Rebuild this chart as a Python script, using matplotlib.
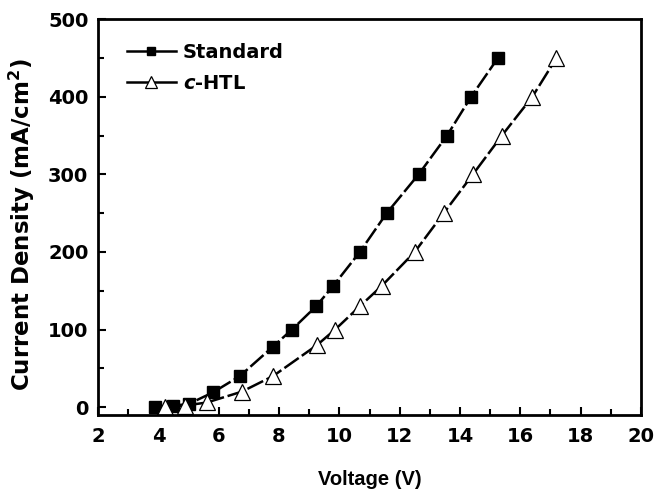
import matplotlib
matplotlib.use("Agg")
import matplotlib.pyplot as plt
from matplotlib.ticker import MultipleLocator

std_v = [3.89, 4.5, 5.0, 5.81, 6.7, 7.8, 8.43, 9.23, 9.79, 10.68, 11.57, 12.63, 13.57, 14.37, 15.26]
std_j = [0, 2, 4, 19, 40, 78, 100, 130, 156, 200, 250, 300, 350, 400, 450]
htl_v = [4.22, 4.88, 5.61, 6.77, 7.8, 9.26, 9.86, 10.68, 11.4, 12.5, 13.46, 14.43, 15.39, 16.4, 17.2]
htl_j = [0, 2, 6, 20, 40, 80, 100, 130, 156, 200, 250, 300, 350, 400, 450]

plt.rcParams["font.family"] = "DejaVu Sans"
plt.rcParams["font.weight"] = "bold"
plt.rcParams["mathtext.fontset"] = "custom"
plt.rcParams["mathtext.it"] = "DejaVu Sans:italic:bold"
plt.rcParams["mathtext.rm"] = "DejaVu Sans:bold"

fig = plt.figure(figsize=(6.54, 4.91), dpi=100)
ax = fig.add_axes([0.15, 0.155, 0.83, 0.806])

ax.plot(std_v, std_j, color="black", lw=1.8, ls=(0, (7, 1.5)), marker="s", ms=9,
        mfc="black", mec="black", label="Standard")
ax.plot(htl_v, htl_j, color="black", lw=1.8, ls=(0, (7, 1.5)), marker="^", ms=12,
        mfc="white", mec="black", mew=0.9, label="$c$-HTL")

ax.set_xlim(2, 20)
ax.set_ylim(-10, 500)
ax.xaxis.set_major_locator(MultipleLocator(2))
ax.xaxis.set_minor_locator(MultipleLocator(1))
ax.yaxis.set_major_locator(MultipleLocator(100))
ax.yaxis.set_minor_locator(MultipleLocator(50))
ax.tick_params(which="both", direction="in", width=1.5, labelsize=14)
ax.tick_params(axis="y", pad=7)
ax.tick_params(axis="x", pad=9)
ax.tick_params(which="major", length=6)
ax.tick_params(which="minor", length=4)
for s in ax.spines.values():
    s.set_linewidth(2)

ax.set_xlabel("Voltage (V)", fontsize=14.5, fontweight="bold", family="Liberation Sans",
              labelpad=17)
ax.set_ylabel("Current Density (mA/cm$^2$)", fontsize=16.5, fontweight="bold")
ax.yaxis.set_label_coords(-0.113, 0.48)

leg = ax.legend(loc="upper left", bbox_to_anchor=(0.039, 0.96), frameon=False,
                fontsize=14, handlelength=2.5, borderaxespad=0, borderpad=0.4,
                labelspacing=0.62, handletextpad=0.36, markerscale=0.7)
for line in leg.get_lines():
    line.set_linestyle("-")

fig.savefig("out.png", dpi=100)
